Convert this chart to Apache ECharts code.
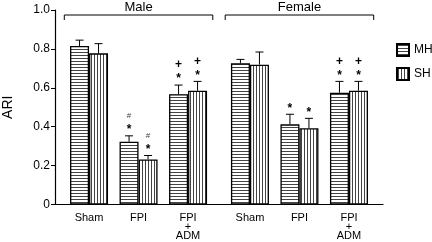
<!DOCTYPE html>
<html>
<head>
<meta charset="utf-8">
<script src="https://cdn.jsdelivr.net/npm/echarts@6/dist/echarts.min.js"></script>
<style>
  html, body { margin: 0; padding: 0; background: #fff; }
  #main { width: 432px; height: 242px; }
</style>
</head>
<body>
<div id="main"></div>
<script>
// data
const groups = ['Sham', 'FPI', 'FPI\n+\nADM', 'Sham', 'FPI', 'FPI\n+\nADM'];
const sexes = ['Male', 'Female'];
const mhMean = [0.815, 0.323, 0.567, 0.726, 0.412, 0.575];
const mhErr = [0.030, 0.030, 0.047, 0.020, 0.052, 0.058];
const shMean = [0.777, 0.232, 0.585, 0.719, 0.392, 0.585];
const shErr = [0.050, 0.020, 0.048, 0.065, 0.051, 0.048];
const mhMarks = [[], ['*', '#'], ['*', '+'], [], ['*'], ['*', '+']];
const shMarks = [[], ['*', '#'], ['*', '+'], [], ['*'], ['*', '+']];

// layout: fine category slots so the gap between sexes is wider
const N_SLOTS = 53;
const slot = [5, 13, 21, 31, 39, 47];
const BAR_W = 19;
const FONT = 'Liberation Sans, Arial, Helvetica, sans-serif';

function stripes(horizontal) {
  const c = document.createElement('canvas');
  c.width = 3; c.height = 3;
  const g = c.getContext('2d');
  g.fillStyle = '#fff';
  g.fillRect(0, 0, 3, 3);
  g.fillStyle = '#444';
  if (horizontal) g.fillRect(0, 1, 3, 1);
  else g.fillRect(1, 0, 1, 3);
  return { image: c, repeat: 'repeat' };
}

const cats = [];
for (let i = 0; i < N_SLOTS; i++) cats.push(String(i));
const toSlots = arr => {
  const out = [];
  for (let i = 0; i < N_SLOTS; i++) {
    const g = slot.indexOf(i);
    out.push(g >= 0 ? arr[g] : '-');
  }
  return out;
};
const isGroup = idx => slot.indexOf(idx) >= 0;

const errData = [];
const errMarks = [];
slot.forEach((s, g) => {
  errData.push([s, mhMean[g], mhErr[g], -1]);
  errMarks.push(mhMarks[g]);
  errData.push([s, shMean[g], shErr[g], 1]);
  errMarks.push(shMarks[g]);
});

const chart = echarts.init(document.getElementById('main'));
chart.setOption({
  animation: false,
  textStyle: { fontFamily: FONT, color: '#000' },
  grid: { left: 55, top: 10, width: 328, bottom: 37.5, outerBoundsMode: 'none', containLabel: false },
  legend: {
    orient: 'vertical',
    left: 391,
    top: 38,
    itemWidth: 12,
    itemHeight: 12,
    itemGap: 10,
    icon: 'rect',
    textStyle: { fontSize: 12, fontFamily: FONT, color: '#000' },
    data: ['MH', 'SH']
  },
  xAxis: {
    type: 'category',
    data: cats,
    axisLine: { lineStyle: { color: '#000', width: 1.2 } },
    axisTick: { interval: idx => isGroup(idx), alignWithLabel: true, length: 4, lineStyle: { color: '#000' } },
    axisLabel: {
      interval: idx => isGroup(idx),
      formatter: (v, idx) => { const g = slot.indexOf(idx); return g >= 0 ? groups[g] : ''; },
      fontSize: 11,
      lineHeight: 9,
      margin: 9,
      color: '#000'
    }
  },
  yAxis: {
    type: 'value',
    min: 0,
    max: 1,
    interval: 0.2,
    name: 'ARI',
    nameLocation: 'middle',
    nameGap: 40,
    nameTextStyle: { fontSize: 14, color: '#000' },
    axisLine: { show: true, lineStyle: { color: '#000', width: 1.2 } },
    axisTick: { show: true, length: 4, lineStyle: { color: '#000' } },
    axisLabel: { fontSize: 12, margin: 5, color: '#000', formatter: v => v === 0 ? '0' : v.toFixed(1) },
    splitLine: { show: false }
  },
  series: [
    {
      name: 'MH',
      type: 'bar',
      data: toSlots(mhMean),
      barWidth: BAR_W,
      barGap: '0%',
      itemStyle: { color: stripes(true), borderColor: '#000', borderWidth: 1.3 }
    },
    {
      name: 'SH',
      type: 'bar',
      data: toSlots(shMean),
      barWidth: BAR_W,
      barGap: '0%',
      itemStyle: { color: stripes(false), borderColor: '#000', borderWidth: 1.3 }
    },
    {
      type: 'custom',
      clip: false,
      z: 5,
      data: errData,
      renderItem: function (params, api) {
        const base = api.coord([api.value(0), api.value(1)]);
        const top = api.coord([api.value(0), api.value(1) + api.value(2)]);
        const x = base[0] + api.value(3) * BAR_W / 2;
        const children = [
          { type: 'line', shape: { x1: x, y1: base[1], x2: x, y2: top[1] }, style: { stroke: '#000', lineWidth: 1 } },
          { type: 'line', shape: { x1: x - 4, y1: top[1], x2: x + 4, y2: top[1] }, style: { stroke: '#000', lineWidth: 1 } }
        ];
        errMarks[params.dataIndex].forEach((m, j) => {
          const small = m === '#';
          children.push({
            type: 'text',
            x: x,
            y: top[1] - (m === '*' ? 6 : 9) - 11 * j,
            style: {
              text: m,
              align: 'center',
              verticalAlign: 'middle',
              fontFamily: FONT,
              fontSize: small ? 8 : 12,
              fontWeight: small ? 'normal' : 'bold',
              fill: small ? '#444' : '#000'
            }
          });
        });
        return { type: 'group', children: children };
      }
    }
  ]
});

// brackets over the two sexes
const px = i => chart.convertToPixel({ xAxisIndex: 0 }, i);
const bracketY = 15;
const graphics = [];
sexes.forEach((name, s) => {
  const x1 = px(slot[s * 3] - 4);
  const x2 = px(slot[s * 3 + 2] + 4);
  graphics.push({
    type: 'polyline',
    shape: { points: [[x1, bracketY + 5], [x1, bracketY], [x2, bracketY], [x2, bracketY + 5]] },
    style: { stroke: '#000', lineWidth: 1, fill: null }
  });
  graphics.push({
    type: 'text',
    x: (x1 + x2) / 2,
    y: 7,
    style: { text: name, align: 'center', verticalAlign: 'middle', fontFamily: FONT, fontSize: 13, fill: '#000' }
  });
});
chart.setOption({ graphic: graphics });
</script>
</body>
</html>
